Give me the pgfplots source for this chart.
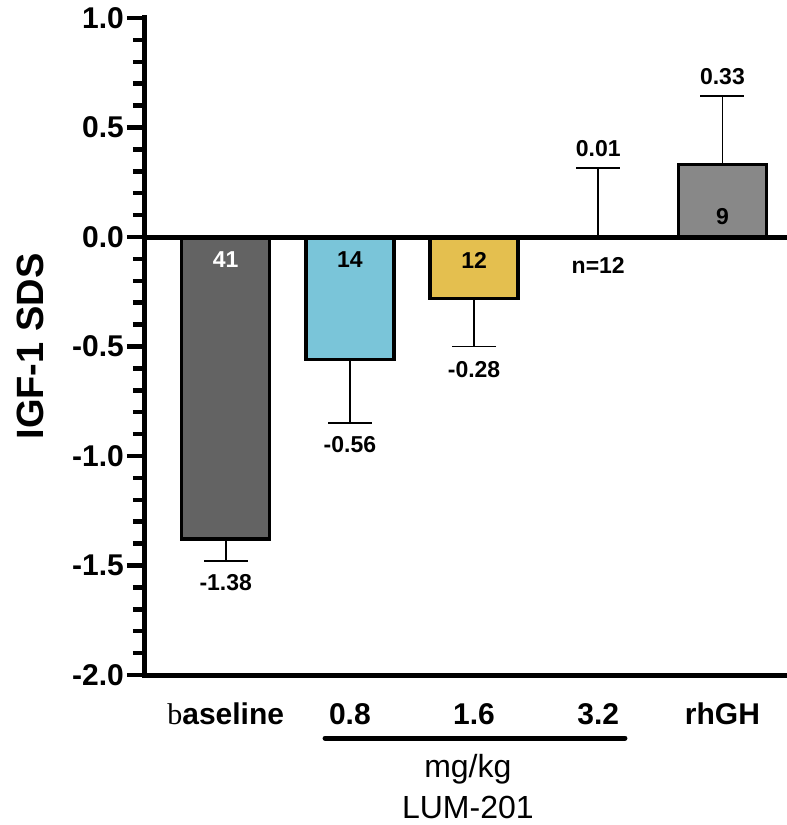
\documentclass[border=0pt]{standalone}
\usepackage{pgfplots}
\pgfplotsset{compat=1.18}
\usepackage{fontspec}
\setmainfont{Liberation Sans}
\newfontfamily\serifb{Liberation Serif}
\definecolor{cbase}{HTML}{636363}
\definecolor{cblue}{HTML}{7AC5D9}
\definecolor{cgold}{HTML}{E4BF4F}
\definecolor{cgh}{HTML}{888888}
\begin{document}
\begin{tikzpicture}
\useasboundingbox (-145pt,-150pt) rectangle (642pt,675pt);
\begin{axis}[
  at={(0,0)}, anchor=south west,
  scale only axis, width=642pt, height=657pt,
  xmin=-0.65, xmax=4.52, ymin=-2, ymax=1,
  clip=false,
  axis x line*=bottom, axis y line*=left,
  axis line style={line width=5pt, line cap=rect},
  xtick={0,1,2,3,4},
  xticklabels={{{\mdseries\serifb b}aseline},0.8,1.6,3.2,rhGH},
  major x tick style={draw=none},
  xticklabel style={anchor=base, yshift=-31pt, font=\fontsize{30}{30}\selectfont\bfseries},
  ytick={-2,-1.5,-1,-0.5,0,0.5,1},
  yticklabels={-2.0,-1.5,-1.0,-0.5,0.0,0.5,1.0},
  minor ytick={-1.9,-1.8,-1.7,-1.6,-1.4,-1.3,-1.2,-1.1,-0.9,-0.8,-0.7,-0.6,-0.4,-0.3,-0.2,-0.1,0.1,0.2,0.3,0.4,0.6,0.7,0.8,0.9},
  tick align=outside,
  major tick length=18pt, minor tick length=12pt,
  every tick/.style={line width=4.5pt, black},
  minor y tick style={line width=4.5pt, black},
  major y tick style={line width=4.5pt, black},
  yticklabel style={font=\fontsize{30}{30}\selectfont\bfseries, inner sep=3pt},
  ylabel={IGF-1 SDS},
  ylabel style={at={(axis description cs:-0.179,0.5)}, anchor=center, font=\fontsize{38}{38}\selectfont\bfseries},
  error bars/error bar style={line width=1.8pt, black},
  error bars/error mark options={line width=1.8pt, mark size=22pt, black, rotate=90},
]
\addplot[ybar, bar width=88pt, bar shift=0pt, fill=cbase, draw=black, line width=3.5pt,
  error bars/.cd, y dir=minus, y explicit]
  coordinates {(0,-1.38) +- (0,0.1)};
\addplot[ybar, bar width=88pt, bar shift=0pt, fill=cblue, draw=black, line width=3.5pt,
  error bars/.cd, y dir=minus, y explicit]
  coordinates {(1,-0.56) +- (0,0.29)};
\addplot[ybar, bar width=88pt, bar shift=0pt, fill=cgold, draw=black, line width=3.5pt,
  error bars/.cd, y dir=minus, y explicit]
  coordinates {(2,-0.28) +- (0,0.22)};
\addplot[ybar, bar width=88pt, bar shift=0pt, fill=none, draw=none, line width=3.5pt,
  error bars/.cd, y dir=plus, y explicit]
  coordinates {(3,0.01) +- (0,0.305)};
\addplot[ybar, bar width=88pt, bar shift=0pt, fill=cgh, draw=black, line width=3.5pt,
  error bars/.cd, y dir=plus, y explicit]
  coordinates {(4,0.33) +- (0,0.315)};
% zero line
\draw[line width=5pt] (axis cs:-0.65,0) -- (axis cs:4.52,0);
% value labels
\begin{scope}[every node/.style={font=\fontsize{23}{23}\selectfont\bfseries, anchor=center, inner sep=0pt}]
\node[white] at (axis cs:0,-0.105) {41};
\node at (axis cs:1,-0.105) {14};
\node at (axis cs:2,-0.105) {12};
\node at (axis cs:3,-0.128) {n=12};
\node at (axis cs:4,0.091) {9};
\node at (axis cs:0,-1.580) {-1.38};
\node at (axis cs:1,-0.950) {-0.56};
\node at (axis cs:2,-0.607) {-0.28};
\node at (axis cs:3,0.406) {0.01};
\node at (axis cs:4,0.731) {0.33};
\end{scope}
% group underline and labels
\draw[line width=5pt, line cap=round] (axis cs:0.80,-2.288) -- (axis cs:3.215,-2.288);
\node[anchor=base, font=\fontsize{32}{32}\selectfont] at (axis cs:1.95,-2.470) {mg/kg};
\node[anchor=base, font=\fontsize{32}{32}\selectfont] at (axis cs:1.95,-2.653) {LUM-201};
\end{axis}
\end{tikzpicture}
\end{document}
